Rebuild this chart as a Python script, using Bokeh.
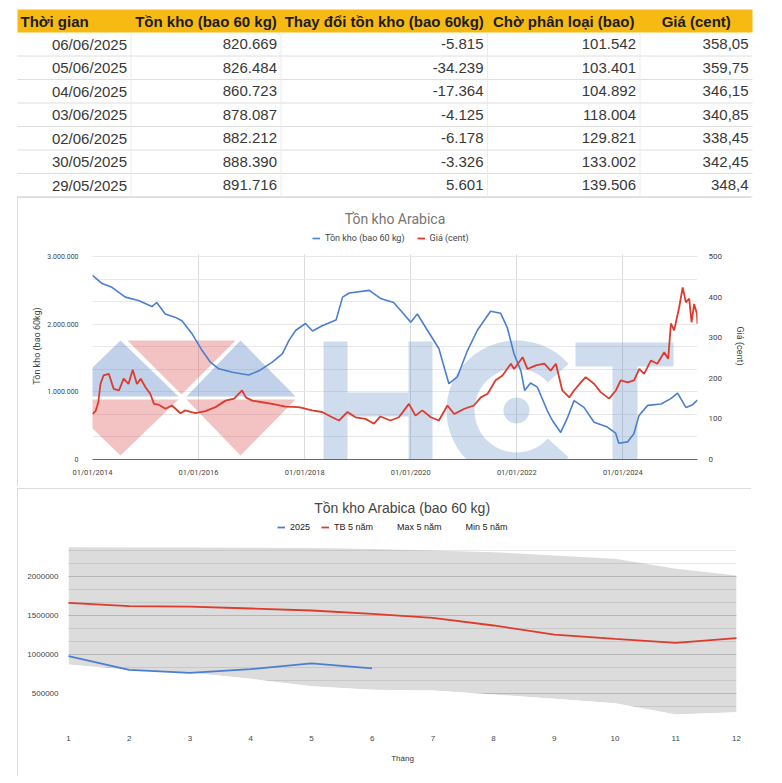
import numpy as np
import pandas as pd
from bokeh.plotting import figure
from bokeh.models import (Range1d, LinearAxis, FixedTicker, Legend, LegendItem,
                          PolyAnnotation)
from bokeh.core.properties import value
from bokeh.core.enums import CoordinateUnits
from bokeh.embed import file_html
from bokeh.resources import INLINE

# ---------------- table data ----------------
table_headers = ["Thời gian", "Tồn kho (bao 60 kg)", "Thay đổi tồn kho (bao 60kg)",
                 "Chờ phân loại (bao)", "Giá (cent)"]
table_dates = ["06/06/2025", "05/06/2025", "04/06/2025", "03/06/2025",
               "02/06/2025", "30/05/2025", "29/05/2025"]
table_stock = [820669, 826484, 860723, 878087, 882212, 888390, 891716]
table_change = [-5815, -34239, -17364, -4125, -6178, -3326, 5601]
table_pending = [101542, 103401, 104892, 118004, 129821, 133002, 139506]
table_price = [358.05, 359.75, 346.15, 340.85, 338.45, 342.45, 348.4]

# ---------------- middle chart data ----------------
stock_dates = ["2014-01-01", "2014-03-08", "2014-05-15", "2014-08-15", "2014-11-14",
               "2015-02-14", "2015-03-19", "2015-05-17", "2015-07-26", "2015-09-09",
               "2015-11-17", "2016-01-26", "2016-03-22", "2016-05-20", "2016-08-21",
               "2016-12-11", "2017-02-20", "2017-05-23", "2017-07-31", "2017-09-15",
               "2017-11-01", "2018-01-07", "2018-02-24", "2018-05-05", "2018-08-05",
               "2018-09-19", "2018-11-04", "2019-03-22", "2019-06-07", "2019-09-06",
               "2019-11-14", "2020-01-01", "2020-02-16", "2020-04-25", "2020-07-13",
               "2020-09-20", "2020-11-17", "2021-01-26", "2021-04-04", "2021-07-04",
               "2021-09-12", "2021-10-27", "2021-12-13", "2022-01-29", "2022-02-24",
               "2022-04-05", "2022-05-22", "2022-07-30", "2022-09-02", "2022-10-30",
               "2022-12-16", "2023-01-30", "2023-04-08", "2023-06-17", "2023-09-16",
               "2023-11-12", "2023-12-04", "2024-02-02", "2024-03-17", "2024-04-21",
               "2024-06-20", "2024-09-20", "2024-11-26", "2025-01-12", "2025-03-10",
               "2025-04-26", "2025-05-29"]
stock_values = [2720000, 2600000, 2545000, 2400000, 2350000,
                2260000, 2320000, 2150000, 2100000, 2050000,
                1860000, 1610000, 1440000, 1340000, 1290000,
                1250000, 1310000, 1440000, 1560000, 1760000,
                1910000, 2010000, 1900000, 1980000, 2060000,
                2400000, 2460000, 2500000, 2380000, 2320000,
                2150000, 2030000, 2150000, 1910000, 1640000,
                1120000, 1220000, 1610000, 1910000, 2190000,
                2160000, 1950000, 1560000, 1310000, 1020000,
                1130000, 1070000, 720000, 580000, 400000,
                620000, 870000, 770000, 550000, 480000,
                390000, 240000, 260000, 380000, 650000,
                800000, 820000, 900000, 980000, 770000,
                810000, 880000]
price_dates = ["2014-01-01", "2014-01-23", "2014-02-10", "2014-02-25", "2014-03-18",
               "2014-04-23", "2014-05-27", "2014-07-02", "2014-08-04", "2014-09-06",
               "2014-10-05", "2014-11-03", "2014-11-29", "2015-01-01", "2015-02-03",
               "2015-02-28", "2015-04-02", "2015-05-19", "2015-07-02", "2015-08-30",
               "2015-10-01", "2015-12-10", "2016-02-17", "2016-04-27", "2016-07-05",
               "2016-09-02", "2016-10-27", "2016-11-22", "2017-01-05", "2017-03-15",
               "2017-05-23", "2017-08-22", "2017-11-21", "2018-02-21", "2018-05-01",
               "2018-07-09", "2018-08-25", "2018-10-23", "2018-12-17", "2019-02-24",
               "2019-04-23", "2019-06-06", "2019-08-14", "2019-10-12", "2019-12-20",
               "2020-02-03", "2020-03-21", "2020-05-19", "2020-07-13", "2020-09-10",
               "2020-10-27", "2021-01-05", "2021-03-11", "2021-04-28", "2021-06-14",
               "2021-08-08", "2021-09-24", "2021-11-21", "2021-12-13", "2022-02-10",
               "2022-03-15", "2022-05-12", "2022-07-09", "2022-08-22", "2022-09-27",
               "2022-11-10", "2022-12-28", "2023-01-30", "2023-03-18", "2023-04-20",
               "2023-06-18", "2023-08-01", "2023-09-28", "2023-11-14", "2023-12-17",
               "2024-02-03", "2024-03-18", "2024-04-23", "2024-05-26", "2024-07-13",
               "2024-08-25", "2024-10-12", "2024-11-08", "2024-11-27", "2024-12-19",
               "2025-01-23", "2025-02-16", "2025-03-10", "2025-04-02", "2025-04-18",
               "2025-05-06", "2025-05-25", "2025-05-29"]
price_values = [112, 120, 141, 186, 207,
                211, 174, 170, 199, 186,
                221, 186, 199, 178, 162,
                137, 135, 125, 133, 114,
                121, 114, 119, 129, 145,
                150, 170, 153, 145, 141,
                137, 130, 129, 121, 117,
                104, 96, 117, 104, 100,
                88, 106, 96, 104, 137,
                108, 121, 104, 96, 133,
                112, 125, 133, 153, 162,
                195, 207, 236, 223, 252,
                223, 232, 236, 219, 236,
                170, 153, 170, 190, 203,
                186, 166, 150, 170, 195,
                190, 195, 223, 211, 244,
                236, 264, 248, 335, 318,
                375, 424, 387, 396, 338,
                383, 359, 334]
mid_xtick_labels = ["01/01/2014", "01/01/2016", "01/01/2018", "01/01/2020",
                    "01/01/2022", "01/01/2024"]
mid_left_ticks = [0, 1000000, 2000000, 3000000]
mid_left_tick_labels = ["0", "1.000.000", "2.000.000", "3.000.000"]
mid_right_ticks = [0, 100, 200, 300, 400, 500]

# ---------------- bottom chart data ----------------
months = [1, 2, 3, 4, 5, 6, 7, 8, 9, 10, 11, 12]
ytd_2025 = [978000, 804000, 765000, 812000, 885000, 821000]
avg_5y = [1663000, 1619000, 1615000, 1590000, 1564000, 1521000,
          1470000, 1372000, 1256000, 1201000, 1150000, 1209000]
max_5y = [2376000, 2372000, 2372000, 2368000, 2365000, 2353000,
          2333000, 2312000, 2269000, 2227000, 2099000, 2013000]
min_5y = [872000, 800000, 765000, 688000, 594000, 547000,
          538000, 487000, 432000, 376000, 231000, 260000]
bot_y_ticks = [500000, 1000000, 1500000, 2000000]

assert len(stock_dates) == len(stock_values)
assert len(price_dates) == len(price_values)

BLUE = "#4a7fd0"
RED = "#dc3b2e"
UNITS = "canvas" if "canvas" in CoordinateUnits else "screen"
FONT_T = "Liberation Sans"
FONT_M = "Roboto"
CARD = {"outline": "1px solid #d2d2d2", "outline-offset": "-1px"}

# =============== table figure (page pixels) ===============
WA, HA = 760, 197
pA = figure(width=WA, height=HA, x_range=Range1d(0, WA), y_range=Range1d(HA, 0),
            x_axis_location=None, y_axis_location=None, title=None,
            output_backend="svg", toolbar_location=None, min_border=0)
pA.grid.visible = False
pA.outline_line_color = None

col_widths = [113.5, 150, 206.5, 152.5, 112.5]
edges = [17.0]
for cw in col_widths:
    edges.append(edges[-1] + cw)
head_top, head_bot = 9.0, 32.0
row_h = (196.5 - head_bot) / len(table_dates)
row_lines = [head_bot + (k + 1) * row_h for k in range(len(table_dates))]
row_mid = [head_bot + (k + 0.5) * row_h for k in range(len(table_dates))]

pA.quad(left=edges[0], right=edges[-1], top=head_top, bottom=head_bot,
        fill_color="#F7BA13", line_color=None)
pA.segment(x0=[edges[0]] * 6, x1=[edges[-1]] * 6, y0=row_lines[:-1], y1=row_lines[:-1],
           line_color="#dedede", line_width=1)
pA.segment(x0=[edges[0]], x1=[edges[-1]], y0=[row_lines[-1]], y1=[row_lines[-1]],
           line_color="#c4c4c4", line_width=1)
pA.segment(x0=edges[1:-1], x1=edges[1:-1], y0=[head_bot] * 4, y1=[row_lines[-1]] * 4,
           line_color="#ececec", line_width=1)

pA.text(x=[edges[0] + 3], y=[(head_top + head_bot) / 2], text=[table_headers[0]],
        text_align="left", text_baseline="middle", text_font=value(FONT_T),
        text_font_size="15px", text_font_style="bold", text_color="#1c1c1c")
pA.text(x=[(edges[i] + edges[i + 1]) / 2 for i in range(1, 5)],
        y=[(head_top + head_bot) / 2] * 4, text=table_headers[1:],
        text_align="center", text_baseline="middle", text_font=value(FONT_T),
        text_font_size="15px", text_font_style="bold", text_color="#1c1c1c")


def vn_int(v):
    return f"{v:,}".replace(",", ".")


def vn_dec(v):
    return f"{v:g}".replace(".", ",")


columns_text = [table_dates,
                [vn_int(v) for v in table_stock],
                [vn_int(v) for v in table_change],
                [vn_int(v) for v in table_pending],
                [vn_dec(v) for v in table_price]]
for i, col in enumerate(columns_text):
    pA.text(x=[edges[i + 1] - 4] * len(col), y=row_mid, text=col,
            text_align="right", text_baseline="middle", text_font=value(FONT_T),
            text_font_size="15px", text_color="#383838")

# =============== watermark geometry (page pixels) ===============
LOGO_BLUE = "#4a7cc0"
LOGO_RED = "#d9534f"
logo_tris = [
    ([(62, 396), (120, 340), (178, 396)], LOGO_BLUE),
    ([(127, 340), (235, 340), (181, 394)], LOGO_RED),
    ([(186, 396), (240, 340), (295, 396)], LOGO_BLUE),
    ([(62, 399), (178, 399), (120, 455)], LOGO_RED),
    ([(186, 399), (295, 399), (240, 455)], LOGO_RED),
]
letter_rects = [(323, 347, 341, 480), (408, 432, 341, 480), (347, 408, 392, 416),
                (575, 673, 342, 366), (612, 637, 366, 480)]
ang = np.linspace(np.radians(42), np.radians(318), 40)
c_cx, c_cy, c_ro, c_ri = 516, 410, 70, 42
c_ring = ([(c_cx + c_ro * np.cos(a), c_cy - c_ro * np.sin(a)) for a in ang] +
          [(c_cx + c_ri * np.cos(a), c_cy - c_ri * np.sin(a)) for a in ang[::-1]])
dot = [(c_cx + 13 * np.cos(a), c_cy - 13 * np.sin(a)) for a in np.linspace(0, 2 * np.pi, 30)]


def add_poly(p, pts, color, alpha, ox, oy):
    p.add_layout(PolyAnnotation(xs=[float(x) - ox for x, _ in pts],
                                ys=[float(y) - oy for _, y in pts],
                                xs_units=UNITS, ys_units=UNITS,
                                fill_color=color, fill_alpha=alpha,
                                line_color=None, level="underlay"))


# =============== middle chart ===============
OXB, OYB = 17, 197
WB, HB = 734, 289
FB_L, FB_R, FB_T, FB_B, FB_AX = 92, 697, 232, 459, 256   # frame edges / top tick row
ext_b = (FB_B - FB_T) / (FB_B - FB_AX)
sd = pd.to_datetime(stock_dates)
pdt = pd.to_datetime(price_dates)
x_start, x_end = min(sd[0], pdt[0]), max(sd[-1], pdt[-1])
y_end_b = mid_left_ticks[-1] * ext_b
pB = figure(width=WB, height=HB, x_axis_type="datetime",
            x_range=Range1d(x_start, x_end),
            y_range=Range1d(0, y_end_b), title="Tồn kho Arabica",
            output_backend="svg", toolbar_location=None,
            min_border_left=FB_L - OXB, min_border_right=WB - (FB_R - OXB),
            min_border_top=FB_T - OYB, min_border_bottom=HB - (FB_B - OYB),
            margin=(0, 0, 0, OXB), styles=CARD)
pB.outline_line_color = None
pB.extra_y_ranges = {"price": Range1d(0, mid_right_ticks[-1] * ext_b)}
pB.title.align = "center"
pB.title.standoff = 12
pB.title.text_font = FONT_M
pB.title.text_font_size = "14px"
pB.title.text_font_style = "normal"
pB.title.text_color = "#757575"

xt = [pd.to_datetime(l, format="%d/%m/%Y") for l in mid_xtick_labels]
xt_ms = [int(t.value // 10**6) for t in xt]
pB.xaxis.ticker = FixedTicker(ticks=xt_ms)
pB.xaxis.major_label_overrides = {m: l for m, l in zip(xt_ms, mid_xtick_labels)}
pB.yaxis.ticker = FixedTicker(ticks=mid_left_ticks)
pB.yaxis.major_label_overrides = {t: l for t, l in zip(mid_left_ticks, mid_left_tick_labels)}
pB.yaxis.axis_label = "Tồn kho (bao 60kg)"
pB.ygrid.ticker = FixedTicker(ticks=mid_left_ticks,
                              minor_ticks=[k * 1000000 / 3 for k in range(10)])
pB.ygrid.grid_line_color = "#e8e8e8"
pB.ygrid.minor_grid_line_color = "#e8e8e8"
pB.xgrid.grid_line_color = "#dadada"

right_axis = LinearAxis(y_range_name="price", ticker=FixedTicker(ticks=mid_right_ticks),
                        axis_label="Giá (cent)")
pB.add_layout(right_axis, "right")

for ax in [pB.xaxis[0], pB.yaxis[0], right_axis]:
    ax.major_tick_line_color = None
    ax.minor_tick_line_color = None
    ax.major_label_text_font = FONT_M
    ax.major_label_text_font_size = "7.5px"
    ax.major_label_text_color = "#444444"
    ax.axis_label_text_font = FONT_M
    ax.axis_label_text_font_size = "9px"
    ax.axis_label_text_font_style = "normal"
    ax.axis_label_text_color = "#444444"
    ax.axis_line_color = None
pB.yaxis.major_label_text_font_size = "7px"
right_axis.major_label_text_font_size = "8px"
pB.xaxis.axis_line_color = "#666666"
pB.xaxis.major_label_standoff = 2
pB.yaxis.major_label_standoff = 8
pB.yaxis.axis_label_standoff = 2
right_axis.major_label_standoff = 5
right_axis.axis_label_standoff = 10

# white strip above the top tick row (frame is extended there only for the legend)
pB.quad(left=[x_start], right=[x_end], bottom=[mid_left_ticks[-1] * 1.01], top=[y_end_b],
        fill_color="white", line_color=None)

r_stock = pB.line(sd, stock_values, line_color=BLUE, line_width=1.6)
r_price = pB.line(pdt, price_values, line_color=RED, line_width=1.8, y_range_name="price")

legB = Legend(items=[LegendItem(label="Tồn kho (bao 60 kg)", renderers=[r_stock]),
                     LegendItem(label="Giá (cent)", renderers=[r_price])],
              orientation="horizontal", location=(312 - FB_L, FB_B - 243),
              label_text_font=FONT_M, label_text_font_size="9px",
              label_text_color="#444444", glyph_width=8, glyph_height=8,
              label_height=10, label_standoff=5, spacing=12, padding=0, margin=0,
              border_line_alpha=0, background_fill_alpha=0)
pB.add_layout(legB)

for pts, colr in logo_tris:
    add_poly(pB, pts, colr, 0.35, OXB, OYB)
for (x0, x1, y0, y1) in letter_rects:
    add_poly(pB, [(x0, y0), (x1, y0), (x1, y1), (x0, y1)], LOGO_BLUE, 0.27, OXB, OYB)
add_poly(pB, c_ring, LOGO_BLUE, 0.27, OXB, OYB)
add_poly(pB, dot, LOGO_BLUE, 0.27, OXB, OYB)

# =============== bottom chart ===============
OXC, OYC = 17, 488
WC, HC = 734, 288
FC_L, FC_R, FC_T, FC_B, FC_ZERO = 68, 736, 520, 727, 732
PX_PER_UNIT = 39 / 500000
pC = figure(width=WC, height=HC, x_range=Range1d(1, 12),
            y_range=Range1d((FC_ZERO - FC_B) / PX_PER_UNIT, (FC_ZERO - FC_T) / PX_PER_UNIT),
            title="Tồn kho Arabica (bao 60 kg)", output_backend="svg",
            toolbar_location=None,
            min_border_left=FC_L - OXC, min_border_right=WC - (FC_R - OXC),
            min_border_top=FC_T - OYC, min_border_bottom=HC - (FC_B - OYC),
            margin=(2, 0, 0, OXC), styles=CARD)
pC.outline_line_color = None
pC.title.align = "center"
pC.title.standoff = 10
pC.title.text_font = FONT_T
pC.title.text_font_size = "14px"
pC.title.text_font_style = "normal"
pC.title.text_color = "#444444"
pC.xaxis.ticker = FixedTicker(ticks=months)
pC.xaxis.axis_label = "Tháng"
pC.yaxis.ticker = FixedTicker(ticks=bot_y_ticks)
pC.yaxis.major_label_overrides = {t: str(t) for t in bot_y_ticks}
pC.xgrid.visible = False
pC.ygrid.ticker = FixedTicker(ticks=bot_y_ticks,
                              minor_ticks=[k * 500000 / 3 for k in range(1, 15)])
pC.ygrid.grid_line_color = "#000000"
pC.ygrid.grid_line_alpha = 0.09
pC.ygrid.minor_grid_line_color = "#000000"
pC.ygrid.minor_grid_line_alpha = 0.09
pC.ygrid.level = "guide"
for ax in [pC.xaxis[0], pC.yaxis[0]]:
    ax.major_tick_line_color = None
    ax.minor_tick_line_color = None
    ax.axis_line_color = None
    ax.major_label_text_font = FONT_T
    ax.major_label_text_font_size = "8px"
    ax.major_label_text_color = "#444444"
    ax.axis_label_text_font = FONT_T
    ax.axis_label_text_font_size = "8px"
    ax.axis_label_text_font_style = "normal"
    ax.axis_label_text_color = "#333333"
pC.xaxis.major_label_standoff = 2
pC.xaxis.axis_label_standoff = 10
pC.yaxis.major_label_standoff = 4

r_band = pC.varea(x=months, y1=min_5y, y2=max_5y, fill_color="#dcdcdc", level="glyph")
r_white = pC.varea(x=months, y1=[0] * len(months), y2=min_5y, fill_color="#ffffff",
                   level="annotation")
r_avg = pC.line(months, avg_5y, line_color=RED, line_width=1.8, level="overlay")
r_2025 = pC.line(months[:len(ytd_2025)], ytd_2025, line_color=BLUE, line_width=1.8,
                 level="overlay")
r_max_key = pC.line(months, max_5y, line_alpha=0)
r_min_key = pC.line(months, min_5y, line_alpha=0)
legC = Legend(items=[LegendItem(label="2025", renderers=[r_2025]),
                     LegendItem(label="TB 5 năm", renderers=[r_avg]),
                     LegendItem(label="Max 5 năm", renderers=[r_max_key]),
                     LegendItem(label="Min 5 năm", renderers=[r_min_key])],
              orientation="horizontal", location=(277 - FC_L, FC_B - 532),
              label_text_font=FONT_T, label_text_font_size="9px",
              label_text_color="#222222", glyph_width=8, glyph_height=8,
              label_height=10, label_standoff=5, spacing=11, padding=0, margin=0,
              border_line_alpha=0, background_fill_alpha=0)
pC.add_layout(legC)

open("out.html", "w").write(file_html([pA, pB, pC], INLINE))
